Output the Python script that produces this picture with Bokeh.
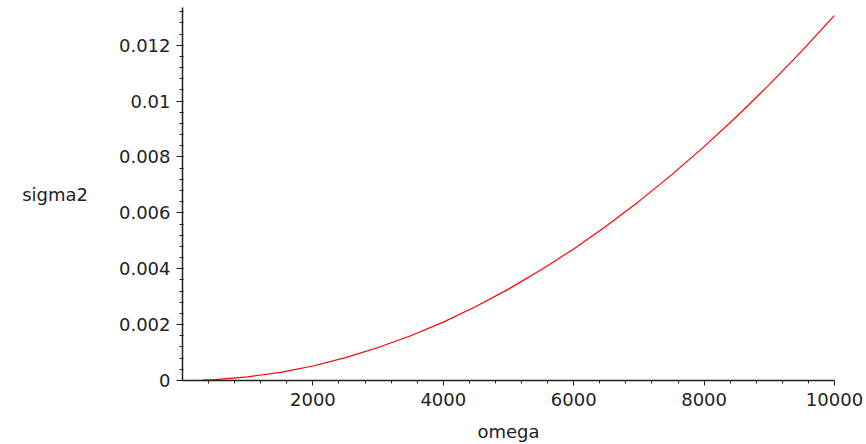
from bokeh.plotting import figure
from bokeh.models import Range1d, FixedTicker
from bokeh.embed import file_html
from bokeh.resources import INLINE

# Data
omega = [300, 500, 1000, 1500, 2000, 2500, 3000, 3500, 4000, 4500, 5000,
         5500, 6000, 6500, 7000, 7500, 8000, 8500, 9000, 9500, 10000]
sigma2 = [0.00001, 0.00003, 0.00013, 0.00029, 0.00052, 0.00082, 0.00118,
          0.00160, 0.00209, 0.00265, 0.00327, 0.00396, 0.00471, 0.00553,
          0.00641, 0.00736, 0.00837, 0.00945, 0.01059, 0.01180, 0.01307]

x_ticks = [2000, 4000, 6000, 8000, 10000]
x_minor = [400 * i for i in range(1, 26)]
y_ticks = [0, 0.002, 0.004, 0.006, 0.008, 0.010, 0.012]
y_tick_labels = ["0", "0.002", "0.004", "0.006", "0.008", "0.01", "0.012"]
y_minor = [round(0.0004 * i, 4) for i in range(1, 34)]

FONT = "DejaVu Sans"
TXT = "#222222"

p = figure(width=866, height=444, output_backend="svg", toolbar_location=None,
           x_range=Range1d(0, 10000), y_range=Range1d(0, 0.01335),
           min_border_left=182, min_border_right=32, min_border_top=7,
           min_border_bottom=63)
p.grid.visible = False
p.outline_line_color = None
p.background_fill_color = "white"
p.border_fill_color = "white"

p.line(omega, sigma2, line_color="#ff0000", line_width=1.2)

xa = p.xaxis[0]
xa.ticker = FixedTicker(ticks=x_ticks, minor_ticks=x_minor)
xa.axis_label = "omega"
xa.axis_label_text_font = FONT
xa.axis_label_text_font_size = "18px"
xa.axis_label_text_font_style = "normal"
xa.axis_label_text_color = TXT
xa.axis_label_standoff = 12
xa.major_label_text_font = FONT
xa.major_label_text_font_size = "18px"
xa.major_label_text_color = TXT
xa.major_label_standoff = 7
xa.major_tick_out = 5
xa.major_tick_in = 0
xa.minor_tick_out = 3
xa.minor_tick_in = 0
xa.axis_line_color = TXT
xa.axis_line_width = 1.5
xa.major_tick_line_color = TXT
xa.minor_tick_line_color = TXT

ya = p.yaxis[0]
ya.ticker = FixedTicker(ticks=y_ticks, minor_ticks=y_minor)
ya.major_label_overrides = {t: l for t, l in zip(y_ticks, y_tick_labels)}
ya.major_label_text_font = FONT
ya.major_label_text_font_size = "18px"
ya.major_label_text_color = TXT
ya.major_label_standoff = 6
ya.major_tick_out = 6
ya.major_tick_in = 0
ya.minor_tick_out = 3
ya.minor_tick_in = 1
ya.axis_line_color = TXT
ya.axis_line_width = 1.5
ya.major_tick_line_color = TXT
ya.minor_tick_line_color = TXT
ya.axis_label = "sigma2"
ya.axis_label_orientation = "horizontal"
ya.axis_label_text_font = FONT
ya.axis_label_text_font_size = "18px"
ya.axis_label_text_font_style = "normal"
ya.axis_label_text_color = TXT
ya.axis_label_standoff = 28

open("out.html", "w").write(file_html(p, INLINE))
